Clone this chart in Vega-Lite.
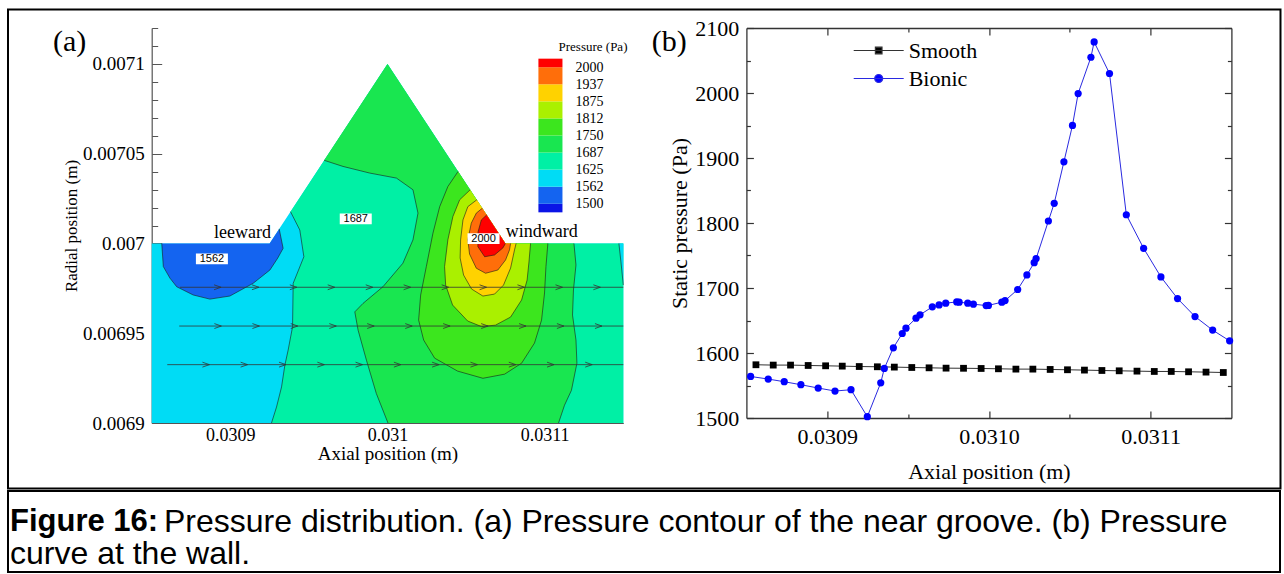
{
  "$schema": "https://vega.github.io/schema/vega-lite/v6.json",
  "background": "white",
  "padding": {"left": 7, "top": 8, "right": 1, "bottom": 1},
  "config": {
    "view": {"stroke": null},
    "font": "Liberation Serif",
    "axis": {"grid": false, "labelFont": "Liberation Serif", "titleFont": "Liberation Serif", "titleFontWeight": "normal", "labelColor": "#000", "titleColor": "#000", "labelOverlap": false, "labelFlush": false},
    "title": {"font": "Liberation Serif", "fontWeight": "normal", "color": "#000"}
  },
  "datasets": {
    "contours": [
      {"poly": "base", "i": 0, "p": 1562.5, "x": 0.03085, "y": 0.007, "seg": null},
      {"poly": "base", "i": 1, "p": 1562.5, "x": 0.030925, "y": 0.007, "seg": null},
      {"poly": "base", "i": 2, "p": 1562.5, "x": 0.031, "y": 0.0071, "seg": null},
      {"poly": "base", "i": 3, "p": 1562.5, "x": 0.031075, "y": 0.007, "seg": null},
      {"poly": "base", "i": 4, "p": 1562.5, "x": 0.03115, "y": 0.007, "seg": null},
      {"poly": "base", "i": 5, "p": 1562.5, "x": 0.03115, "y": 0.0069, "seg": null},
      {"poly": "base", "i": 6, "p": 1562.5, "x": 0.03085, "y": 0.0069, "seg": null},

      {"poly": "t", "i": 0, "p": 1625, "x": 0.0309383, "y": 0.0070177, "seg": "s1625"},
      {"poly": "t", "i": 1, "p": 1625, "x": 0.0309442, "y": 0.0070075, "seg": "s1625"},
      {"poly": "t", "i": 2, "p": 1625, "x": 0.0309468, "y": 0.0069926, "seg": "s1625"},
      {"poly": "t", "i": 3, "p": 1625, "x": 0.03094, "y": 0.0069778, "seg": "s1625"},
      {"poly": "t", "i": 4, "p": 1625, "x": 0.0309396, "y": 0.0069536, "seg": "s1625"},
      {"poly": "t", "i": 5, "p": 1625, "x": 0.0309368, "y": 0.0069406, "seg": "s1625"},
      {"poly": "t", "i": 6, "p": 1625, "x": 0.0309347, "y": 0.0069322, "seg": "s1625"},
      {"poly": "t", "i": 7, "p": 1625, "x": 0.0309326, "y": 0.0069201, "seg": "s1625"},
      {"poly": "t", "i": 8, "p": 1625, "x": 0.0309294, "y": 0.0069089, "seg": "s1625"},
      {"poly": "t", "i": 9, "p": 1625, "x": 0.0309262, "y": 0.0069, "seg": "s1625"},
      {"poly": "t", "i": 10, "p": 1625, "x": 0.03115, "y": 0.0069, "seg": null},
      {"poly": "t", "i": 11, "p": 1625, "x": 0.03115, "y": 0.007, "seg": null},
      {"poly": "t", "i": 12, "p": 1625, "x": 0.031075, "y": 0.007, "seg": null},
      {"poly": "t", "i": 13, "p": 1625, "x": 0.031, "y": 0.0071, "seg": null},

      {"poly": "cs", "i": 0, "p": 1562.5, "x": 0.0311472, "y": 0.007, "seg": "s1625b"},
      {"poly": "cs", "i": 1, "p": 1562.5, "x": 0.0311485, "y": 0.0069897, "seg": "s1625b"},
      {"poly": "cs", "i": 2, "p": 1562.5, "x": 0.03115, "y": 0.0069768, "seg": "s1625b"},
      {"poly": "cs", "i": 3, "p": 1562.5, "x": 0.03115, "y": 0.007, "seg": null},

      {"poly": "b", "i": 0, "p": 1500, "x": 0.0308564, "y": 0.007, "seg": "s1562"},
      {"poly": "b", "i": 1, "p": 1500, "x": 0.0308574, "y": 0.0069871, "seg": "s1562"},
      {"poly": "b", "i": 2, "p": 1500, "x": 0.0308616, "y": 0.0069807, "seg": "s1562"},
      {"poly": "b", "i": 3, "p": 1500, "x": 0.0308659, "y": 0.0069759, "seg": "s1562"},
      {"poly": "b", "i": 4, "p": 1500, "x": 0.0308764, "y": 0.0069713, "seg": "s1562"},
      {"poly": "b", "i": 5, "p": 1500, "x": 0.030887, "y": 0.006969, "seg": "s1562"},
      {"poly": "b", "i": 6, "p": 1500, "x": 0.0308997, "y": 0.0069707, "seg": "s1562"},
      {"poly": "b", "i": 7, "p": 1500, "x": 0.0309145, "y": 0.0069778, "seg": "s1562"},
      {"poly": "b", "i": 8, "p": 1500, "x": 0.0309252, "y": 0.0069852, "seg": "s1562"},
      {"poly": "b", "i": 9, "p": 1500, "x": 0.0309302, "y": 0.0069919, "seg": "s1562"},
      {"poly": "b", "i": 10, "p": 1500, "x": 0.0309336, "y": 0.0069973, "seg": "s1562"},
      {"poly": "b", "i": 11, "p": 1500, "x": 0.0309311, "y": 0.0070081, "seg": "s1562"},
      {"poly": "b", "i": 12, "p": 1500, "x": 0.030925, "y": 0.007, "seg": null},

      {"poly": "g1", "i": 0, "p": 1687.5, "x": 0.0311088, "y": 0.0069, "seg": "s1687R"},
      {"poly": "g1", "i": 1, "p": 1687.5, "x": 0.0311126, "y": 0.0069099, "seg": "s1687R"},
      {"poly": "g1", "i": 2, "p": 1687.5, "x": 0.031117, "y": 0.0069182, "seg": "s1687R"},
      {"poly": "g1", "i": 3, "p": 1687.5, "x": 0.0311205, "y": 0.0069333, "seg": "s1687R"},
      {"poly": "g1", "i": 4, "p": 1687.5, "x": 0.0311199, "y": 0.0069462, "seg": "s1687R"},
      {"poly": "g1", "i": 5, "p": 1687.5, "x": 0.0311177, "y": 0.0069601, "seg": "s1687R"},
      {"poly": "g1", "i": 6, "p": 1687.5, "x": 0.0311183, "y": 0.0069741, "seg": "s1687R"},
      {"poly": "g1", "i": 7, "p": 1687.5, "x": 0.0311199, "y": 0.006988, "seg": "s1687R"},
      {"poly": "g1", "i": 8, "p": 1687.5, "x": 0.0311186, "y": 0.007, "seg": "s1687R"},
      {"poly": "g1", "i": 9, "p": 1687.5, "x": 0.031075, "y": 0.007, "seg": null},
      {"poly": "g1", "i": 10, "p": 1687.5, "x": 0.031, "y": 0.0071, "seg": null},
      {"poly": "g1", "i": 11, "p": 1687.5, "x": 0.0309597, "y": 0.0070463, "seg": "s1687L"},
      {"poly": "g1", "i": 12, "p": 1687.5, "x": 0.0309717, "y": 0.0070429, "seg": "s1687L"},
      {"poly": "g1", "i": 13, "p": 1687.5, "x": 0.0309887, "y": 0.0070392, "seg": "s1687L"},
      {"poly": "g1", "i": 14, "p": 1687.5, "x": 0.0310057, "y": 0.0070364, "seg": "s1687L"},
      {"poly": "g1", "i": 15, "p": 1687.5, "x": 0.0310162, "y": 0.0070299, "seg": "s1687L"},
      {"poly": "g1", "i": 16, "p": 1687.5, "x": 0.0310194, "y": 0.0070169, "seg": "s1687L"},
      {"poly": "g1", "i": 17, "p": 1687.5, "x": 0.0310162, "y": 0.007002, "seg": "s1687L"},
      {"poly": "g1", "i": 18, "p": 1687.5, "x": 0.0310098, "y": 0.006989, "seg": "s1687L"},
      {"poly": "g1", "i": 19, "p": 1687.5, "x": 0.0309971, "y": 0.0069759, "seg": "s1687L"},
      {"poly": "g1", "i": 20, "p": 1687.5, "x": 0.0309844, "y": 0.0069666, "seg": "s1687L"},
      {"poly": "g1", "i": 21, "p": 1687.5, "x": 0.0309792, "y": 0.0069619, "seg": "s1687L"},
      {"poly": "g1", "i": 22, "p": 1687.5, "x": 0.0309813, "y": 0.0069517, "seg": "s1687L"},
      {"poly": "g1", "i": 23, "p": 1687.5, "x": 0.0309866, "y": 0.006935, "seg": "s1687L"},
      {"poly": "g1", "i": 24, "p": 1687.5, "x": 0.0309929, "y": 0.0069164, "seg": "s1687L"},
      {"poly": "g1", "i": 25, "p": 1687.5, "x": 0.0310003, "y": 0.0069, "seg": "s1687L"},

      {"poly": "g2", "i": 0, "p": 1750, "x": 0.0310449, "y": 0.0070401, "seg": "s1750"},
      {"poly": "g2", "i": 1, "p": 1750, "x": 0.0310384, "y": 0.0070317, "seg": "s1750"},
      {"poly": "g2", "i": 2, "p": 1750, "x": 0.0310332, "y": 0.0070205, "seg": "s1750"},
      {"poly": "g2", "i": 3, "p": 1750, "x": 0.0310289, "y": 0.0070057, "seg": "s1750"},
      {"poly": "g2", "i": 4, "p": 1750, "x": 0.0310247, "y": 0.0069871, "seg": "s1750"},
      {"poly": "g2", "i": 5, "p": 1750, "x": 0.0310211, "y": 0.0069713, "seg": "s1750"},
      {"poly": "g2", "i": 6, "p": 1750, "x": 0.0310198, "y": 0.0069573, "seg": "s1750"},
      {"poly": "g2", "i": 7, "p": 1750, "x": 0.031023, "y": 0.0069462, "seg": "s1750"},
      {"poly": "g2", "i": 8, "p": 1750, "x": 0.03103, "y": 0.0069361, "seg": "s1750"},
      {"poly": "g2", "i": 9, "p": 1750, "x": 0.0310446, "y": 0.0069289, "seg": "s1750"},
      {"poly": "g2", "i": 10, "p": 1750, "x": 0.0310607, "y": 0.0069249, "seg": "s1750"},
      {"poly": "g2", "i": 11, "p": 1750, "x": 0.0310745, "y": 0.0069272, "seg": "s1750"},
      {"poly": "g2", "i": 12, "p": 1750, "x": 0.0310853, "y": 0.0069333, "seg": "s1750"},
      {"poly": "g2", "i": 13, "p": 1750, "x": 0.0310935, "y": 0.0069445, "seg": "s1750"},
      {"poly": "g2", "i": 14, "p": 1750, "x": 0.031098, "y": 0.0069573, "seg": "s1750"},
      {"poly": "g2", "i": 15, "p": 1750, "x": 0.0310999, "y": 0.0069724, "seg": "s1750"},
      {"poly": "g2", "i": 16, "p": 1750, "x": 0.0311008, "y": 0.0069871, "seg": "s1750"},
      {"poly": "g2", "i": 17, "p": 1750, "x": 0.031102, "y": 0.007, "seg": "s1750"},
      {"poly": "g2", "i": 18, "p": 1750, "x": 0.031075, "y": 0.007, "seg": null},

      {"poly": "yg", "i": 0, "p": 1812.5, "x": 0.0310526, "y": 0.0070299, "seg": "s1812"},
      {"poly": "yg", "i": 1, "p": 1812.5, "x": 0.0310459, "y": 0.0070243, "seg": "s1812"},
      {"poly": "yg", "i": 2, "p": 1812.5, "x": 0.0310416, "y": 0.007015, "seg": "s1812"},
      {"poly": "yg", "i": 3, "p": 1812.5, "x": 0.0310384, "y": 0.007002, "seg": "s1812"},
      {"poly": "yg", "i": 4, "p": 1812.5, "x": 0.0310363, "y": 0.0069871, "seg": "s1812"},
      {"poly": "yg", "i": 5, "p": 1812.5, "x": 0.031037, "y": 0.0069768, "seg": "s1812"},
      {"poly": "yg", "i": 6, "p": 1812.5, "x": 0.0310414, "y": 0.0069657, "seg": "s1812"},
      {"poly": "yg", "i": 7, "p": 1812.5, "x": 0.031051, "y": 0.0069568, "seg": "s1812"},
      {"poly": "yg", "i": 8, "p": 1812.5, "x": 0.0310598, "y": 0.0069537, "seg": "s1812"},
      {"poly": "yg", "i": 9, "p": 1812.5, "x": 0.0310687, "y": 0.0069545, "seg": "s1812"},
      {"poly": "yg", "i": 10, "p": 1812.5, "x": 0.0310783, "y": 0.006959, "seg": "s1812"},
      {"poly": "yg", "i": 11, "p": 1812.5, "x": 0.0310853, "y": 0.0069685, "seg": "s1812"},
      {"poly": "yg", "i": 12, "p": 1812.5, "x": 0.0310888, "y": 0.0069796, "seg": "s1812"},
      {"poly": "yg", "i": 13, "p": 1812.5, "x": 0.03109, "y": 0.0069897, "seg": "s1812"},
      {"poly": "yg", "i": 14, "p": 1812.5, "x": 0.031091, "y": 0.007, "seg": "s1812"},
      {"poly": "yg", "i": 15, "p": 1812.5, "x": 0.031075, "y": 0.007, "seg": null},

      {"poly": "y", "i": 0, "p": 1875, "x": 0.0310568, "y": 0.0070243, "seg": "s1875"},
      {"poly": "y", "i": 1, "p": 1875, "x": 0.0310511, "y": 0.0070205, "seg": "s1875"},
      {"poly": "y", "i": 2, "p": 1875, "x": 0.031048, "y": 0.0070131, "seg": "s1875"},
      {"poly": "y", "i": 3, "p": 1875, "x": 0.0310465, "y": 0.007002, "seg": "s1875"},
      {"poly": "y", "i": 4, "p": 1875, "x": 0.0310462, "y": 0.0069919, "seg": "s1875"},
      {"poly": "y", "i": 5, "p": 1875, "x": 0.0310484, "y": 0.0069824, "seg": "s1875"},
      {"poly": "y", "i": 6, "p": 1875, "x": 0.0310535, "y": 0.0069746, "seg": "s1875"},
      {"poly": "y", "i": 7, "p": 1875, "x": 0.0310607, "y": 0.0069707, "seg": "s1875"},
      {"poly": "y", "i": 8, "p": 1875, "x": 0.0310681, "y": 0.0069718, "seg": "s1875"},
      {"poly": "y", "i": 9, "p": 1875, "x": 0.0310738, "y": 0.0069768, "seg": "s1875"},
      {"poly": "y", "i": 10, "p": 1875, "x": 0.0310783, "y": 0.0069863, "seg": "s1875"},
      {"poly": "y", "i": 11, "p": 1875, "x": 0.0310808, "y": 0.0069964, "seg": "s1875"},
      {"poly": "y", "i": 12, "p": 1875, "x": 0.0310818, "y": 0.007, "seg": "s1875"},
      {"poly": "y", "i": 13, "p": 1875, "x": 0.031075, "y": 0.007, "seg": null},

      {"poly": "o", "i": 0, "p": 1937.5, "x": 0.0310603, "y": 0.0070196, "seg": "s1937"},
      {"poly": "o", "i": 1, "p": 1937.5, "x": 0.0310565, "y": 0.0070169, "seg": "s1937"},
      {"poly": "o", "i": 2, "p": 1937.5, "x": 0.0310533, "y": 0.0070113, "seg": "s1937"},
      {"poly": "o", "i": 3, "p": 1937.5, "x": 0.0310511, "y": 0.007002, "seg": "s1937"},
      {"poly": "o", "i": 4, "p": 1937.5, "x": 0.0310522, "y": 0.0069941, "seg": "s1937"},
      {"poly": "o", "i": 5, "p": 1937.5, "x": 0.0310565, "y": 0.0069862, "seg": "s1937"},
      {"poly": "o", "i": 6, "p": 1937.5, "x": 0.0310624, "y": 0.0069834, "seg": "s1937"},
      {"poly": "o", "i": 7, "p": 1937.5, "x": 0.0310702, "y": 0.0069852, "seg": "s1937"},
      {"poly": "o", "i": 8, "p": 1937.5, "x": 0.0310751, "y": 0.0069908, "seg": "s1937"},
      {"poly": "o", "i": 9, "p": 1937.5, "x": 0.0310776, "y": 0.0069964, "seg": "s1937"},
      {"poly": "o", "i": 10, "p": 1937.5, "x": 0.0310783, "y": 0.007, "seg": "s1937"},
      {"poly": "o", "i": 11, "p": 1937.5, "x": 0.031075, "y": 0.007, "seg": null},

      {"poly": "r", "i": 0, "p": 2000, "x": 0.0310631, "y": 0.0070159, "seg": "s2000"},
      {"poly": "r", "i": 1, "p": 2000, "x": 0.0310597, "y": 0.0070131, "seg": "s2000"},
      {"poly": "r", "i": 2, "p": 2000, "x": 0.0310576, "y": 0.0070064, "seg": "s2000"},
      {"poly": "r", "i": 3, "p": 2000, "x": 0.0310575, "y": 0.0069982, "seg": "s2000"},
      {"poly": "r", "i": 4, "p": 2000, "x": 0.0310618, "y": 0.0069926, "seg": "s2000"},
      {"poly": "r", "i": 5, "p": 2000, "x": 0.0310681, "y": 0.0069936, "seg": "s2000"},
      {"poly": "r", "i": 6, "p": 2000, "x": 0.0310734, "y": 0.0069975, "seg": "s2000"},
      {"poly": "r", "i": 7, "p": 2000, "x": 0.031075, "y": 0.007, "seg": "s2000"}
    ],
    "streams": [
      {"sl": "1", "x": 0.030868, "y": 0.0069756},
      {"sl": "1", "x": 0.03115, "y": 0.0069756},
      {"sl": "2", "x": 0.0308675, "y": 0.006954},
      {"sl": "2", "x": 0.03115, "y": 0.006954},
      {"sl": "3", "x": 0.0308599, "y": 0.0069325},
      {"sl": "3", "x": 0.03115, "y": 0.0069325}
    ],
    "arrows": [
      {"x": 0.0308919, "y": 0.0069756}, {"x": 0.030916, "y": 0.0069756}, {"x": 0.0309401, "y": 0.0069756}, {"x": 0.0309642, "y": 0.0069756}, {"x": 0.0309884, "y": 0.0069756}, {"x": 0.0310125, "y": 0.0069756}, {"x": 0.0310367, "y": 0.0069756}, {"x": 0.0310608, "y": 0.0069756}, {"x": 0.0310849, "y": 0.0069756}, {"x": 0.0311091, "y": 0.0069756}, {"x": 0.0311332, "y": 0.0069756},
      {"x": 0.0308921, "y": 0.006954}, {"x": 0.0309163, "y": 0.006954}, {"x": 0.0309407, "y": 0.006954}, {"x": 0.0309652, "y": 0.006954}, {"x": 0.0309893, "y": 0.006954}, {"x": 0.0310135, "y": 0.006954}, {"x": 0.0310376, "y": 0.006954}, {"x": 0.0310618, "y": 0.006954}, {"x": 0.0310859, "y": 0.006954}, {"x": 0.03111, "y": 0.006954}, {"x": 0.0311342, "y": 0.006954},
      {"x": 0.0308845, "y": 0.0069325}, {"x": 0.0309088, "y": 0.0069325}, {"x": 0.0309332, "y": 0.0069325}, {"x": 0.0309576, "y": 0.0069325}, {"x": 0.0309819, "y": 0.0069325}, {"x": 0.0310063, "y": 0.0069325}, {"x": 0.0310306, "y": 0.0069325}, {"x": 0.031055, "y": 0.0069325}, {"x": 0.0310794, "y": 0.0069325}, {"x": 0.0311037, "y": 0.0069325}, {"x": 0.031128, "y": 0.0069325}
    ],
    "clabels": [
      {"x": 0.0308883, "y": 0.0069914, "label": "1562"},
      {"x": 0.0309798, "y": 0.0070137, "label": "1687"},
      {"x": 0.0310611, "y": 0.0070027, "label": "2000"}
    ],
    "notes": [
      {"x": 0.0309077, "y": 0.0070029, "label": "leeward"},
      {"x": 0.0310981, "y": 0.0070035, "label": "windward"}
    ],
    "cbar": [
      {"lo": 1468.75, "hi": 1500}, {"lo": 1500, "hi": 1562.5}, {"lo": 1562.5, "hi": 1625}, {"lo": 1625, "hi": 1687.5}, {"lo": 1687.5, "hi": 1750},
      {"lo": 1750, "hi": 1812.5}, {"lo": 1812.5, "hi": 1875}, {"lo": 1875, "hi": 1937.5}, {"lo": 1937.5, "hi": 2000}, {"lo": 2000, "hi": 2031.25}
    ],
    "wall": [
      {"series": "Smooth", "x": 0.0308559, "p": 1581.9}, {"series": "Smooth", "x": 0.0308666, "p": 1581.4}, {"series": "Smooth", "x": 0.0308773, "p": 1581.4}, {"series": "Smooth", "x": 0.0308882, "p": 1580.8},
      {"series": "Smooth", "x": 0.030899, "p": 1580.3}, {"series": "Smooth", "x": 0.0309093, "p": 1579.8}, {"series": "Smooth", "x": 0.0309198, "p": 1579.2}, {"series": "Smooth", "x": 0.030931, "p": 1578.8},
      {"series": "Smooth", "x": 0.0309415, "p": 1578.3}, {"series": "Smooth", "x": 0.0309523, "p": 1577.7}, {"series": "Smooth", "x": 0.030963, "p": 1577.2}, {"series": "Smooth", "x": 0.0309735, "p": 1576.7},
      {"series": "Smooth", "x": 0.0309843, "p": 1576.5}, {"series": "Smooth", "x": 0.0309952, "p": 1576.2}, {"series": "Smooth", "x": 0.0310059, "p": 1575.7}, {"series": "Smooth", "x": 0.0310167, "p": 1575.2},
      {"series": "Smooth", "x": 0.0310272, "p": 1575.2}, {"series": "Smooth", "x": 0.0310379, "p": 1574.7}, {"series": "Smooth", "x": 0.0310486, "p": 1574.2}, {"series": "Smooth", "x": 0.0310591, "p": 1573.7},
      {"series": "Smooth", "x": 0.0310699, "p": 1573.1}, {"series": "Smooth", "x": 0.0310806, "p": 1572.6}, {"series": "Smooth", "x": 0.0310916, "p": 1572.1}, {"series": "Smooth", "x": 0.0311023, "p": 1571.6},
      {"series": "Smooth", "x": 0.0311128, "p": 1571.6}, {"series": "Smooth", "x": 0.0311235, "p": 1571.1}, {"series": "Smooth", "x": 0.0311343, "p": 1570.6}, {"series": "Smooth", "x": 0.031145, "p": 1570.0},
      {"series": "Bionic", "x": 0.0308526, "p": 1563.9}, {"series": "Bionic", "x": 0.0308635, "p": 1559.9}, {"series": "Bionic", "x": 0.0308734, "p": 1555.8}, {"series": "Bionic", "x": 0.0308837, "p": 1551.2},
      {"series": "Bionic", "x": 0.0308944, "p": 1546.1}, {"series": "Bionic", "x": 0.0309048, "p": 1541.5}, {"series": "Bionic", "x": 0.0309147, "p": 1543.5}, {"series": "Bionic", "x": 0.0309248, "p": 1502},
      {"series": "Bionic", "x": 0.0309331, "p": 1554.2}, {"series": "Bionic", "x": 0.0309353, "p": 1576.2}, {"series": "Bionic", "x": 0.0309409, "p": 1608}, {"series": "Bionic", "x": 0.0309464, "p": 1630},
      {"series": "Bionic", "x": 0.0309487, "p": 1638.2}, {"series": "Bionic", "x": 0.0309549, "p": 1653.6}, {"series": "Bionic", "x": 0.0309574, "p": 1658.7}, {"series": "Bionic", "x": 0.030965, "p": 1671},
      {"series": "Bionic", "x": 0.0309692, "p": 1674}, {"series": "Bionic", "x": 0.0309733, "p": 1676.7}, {"series": "Bionic", "x": 0.0309801, "p": 1678.6}, {"series": "Bionic", "x": 0.0309816, "p": 1678.2},
      {"series": "Bionic", "x": 0.0309869, "p": 1676.7}, {"series": "Bionic", "x": 0.0309904, "p": 1675.1}, {"series": "Bionic", "x": 0.0309983, "p": 1673}, {"series": "Bionic", "x": 0.0309997, "p": 1673.2},
      {"series": "Bionic", "x": 0.031008, "p": 1678.2}, {"series": "Bionic", "x": 0.03101, "p": 1680.6}, {"series": "Bionic", "x": 0.0310178, "p": 1697.7}, {"series": "Bionic", "x": 0.0310235, "p": 1720.1},
      {"series": "Bionic", "x": 0.031028, "p": 1739}, {"series": "Bionic", "x": 0.0310292, "p": 1745.2}, {"series": "Bionic", "x": 0.0310368, "p": 1803.1}, {"series": "Bionic", "x": 0.0310404, "p": 1830.3},
      {"series": "Bionic", "x": 0.0310464, "p": 1894.2}, {"series": "Bionic", "x": 0.0310517, "p": 1950.1}, {"series": "Bionic", "x": 0.0310552, "p": 1999.2}, {"series": "Bionic", "x": 0.0310631, "p": 2055},
      {"series": "Bionic", "x": 0.0310651, "p": 2078.5}, {"series": "Bionic", "x": 0.0310746, "p": 2030}, {"series": "Bionic", "x": 0.031085, "p": 1812.7}, {"series": "Bionic", "x": 0.0310957, "p": 1761.1},
      {"series": "Bionic", "x": 0.0311064, "p": 1717}, {"series": "Bionic", "x": 0.0311167, "p": 1683.7}, {"series": "Bionic", "x": 0.0311275, "p": 1656.1}, {"series": "Bionic", "x": 0.0311384, "p": 1635.2},
      {"series": "Bionic", "x": 0.0311489, "p": 1618.7}
    ]
  },
  "vconcat": [
    {
      "hconcat": [
        {
          "width": 21,
          "height": 10,
          "data": {"values": []},
          "mark": {"type": "point"}
        },
        {
          "width": 471.6,
          "height": 395,
          "title": {"text": "(a)", "anchor": "start", "frame": "bounds", "fontSize": 30, "offset": -72, "dx": 46, "baseline": "alphabetic"},
          "layer": [
            {
              "resolve": {"axis": {"x": "independent", "y": "independent"}},
              "layer": [
                {
                  "data": {"values": [{"frame": "figure"}]},
                  "mark": {"type": "rect", "filled": false, "color": "#000", "strokeWidth": 2},
                  "encoding": {
                    "x": {"datum": 0.03075859, "type": "quantitative", "axis": null},
                    "x2": {"datum": 0.03156806},
                    "y": {"datum": 0.0071303, "type": "quantitative", "axis": null},
                    "y2": {"datum": 0.00686352}
                  }
                },
                {
                  "data": {"name": "contours"},
                  "encoding": {
                    "x": {"field": "x", "type": "quantitative", "scale": {"domain": [0.03085, 0.03115], "nice": false, "zero": false},
                      "axis": {"orient": "bottom", "values": [0.0309, 0.031, 0.0311], "format": ".4~f", "tickSize": -10,
                        "labelPadding": 13.8, "labelFontSize": 18, "labelAngle": 0,
                        "title": "Axial position (m)", "titleFontSize": 19, "titlePadding": 0,
                        "domainColor": "#555", "tickColor": "#555", "domainWidth": 1.2, "tickWidth": 1}},
                    "y": {"field": "y", "type": "quantitative", "scale": {"domain": [0.0069, 0.00712], "nice": false, "zero": false},
                      "axis": {"orient": "left", "values": [0.0069, 0.00695, 0.007, 0.00705, 0.0071], "format": ".5~f", "tickSize": -10,
                        "labelPadding": 17.4, "labelFontSize": 19,
                        "title": "Radial position (m)", "titleFontSize": 17, "titlePadding": 2,
                        "domainColor": "#555", "tickColor": "#555", "domainWidth": 1.2, "tickWidth": 1}},
                    "order": {"field": "i", "type": "quantitative"},
                    "detail": {"field": "poly", "type": "nominal"},
                    "fill": {"field": "p", "type": "quantitative", "legend": null,
                      "scale": {"type": "threshold", "domain": [1500, 1562.5, 1625, 1687.5, 1750, 1812.5, 1875, 1937.5, 2000],
                        "range": ["#0A14E6", "#1464F0", "#00DCF5", "#00F0A5", "#19E650", "#3CE61E", "#AAF000", "#FFD200", "#FF6E0A", "#FF0000"]}}
                  },
                  "layer": [
                    {"transform": [{"filter": "datum.poly === 'base'"}], "mark": {"type": "line", "interpolate": "linear-closed", "strokeWidth": 0, "strokeOpacity": 0}},
                    {"transform": [{"filter": "datum.poly === 't'"}], "mark": {"type": "line", "interpolate": "linear-closed", "strokeWidth": 0, "strokeOpacity": 0}},
                    {"transform": [{"filter": "datum.poly === 'g1' || datum.poly === 'cs' || datum.poly === 'b'"}], "mark": {"type": "line", "interpolate": "linear-closed", "strokeWidth": 0, "strokeOpacity": 0}},
                    {"transform": [{"filter": "datum.poly === 'g2'"}], "mark": {"type": "line", "interpolate": "linear-closed", "strokeWidth": 0, "strokeOpacity": 0}},
                    {"transform": [{"filter": "datum.poly === 'yg'"}], "mark": {"type": "line", "interpolate": "linear-closed", "strokeWidth": 0, "strokeOpacity": 0}},
                    {"transform": [{"filter": "datum.poly === 'y'"}], "mark": {"type": "line", "interpolate": "linear-closed", "strokeWidth": 0, "strokeOpacity": 0}},
                    {"transform": [{"filter": "datum.poly === 'o'"}], "mark": {"type": "line", "interpolate": "linear-closed", "strokeWidth": 0, "strokeOpacity": 0}},
                    {"transform": [{"filter": "datum.poly === 'r'"}], "mark": {"type": "line", "interpolate": "linear-closed", "strokeWidth": 0, "strokeOpacity": 0}}
                  ]
                },
                {
                  "data": {"name": "contours"},
                  "transform": [{"filter": "datum.seg != null"}],
                  "mark": {"type": "line", "stroke": "#1a1a1a", "strokeWidth": 0.7, "opacity": 0.85},
                  "encoding": {
                    "x": {"field": "x", "type": "quantitative",
                      "axis": {"orient": "bottom", "values": [0.03086, 0.03088, 0.03092, 0.03094, 0.03096, 0.03098, 0.03102, 0.03104, 0.03106, 0.03108, 0.03112, 0.03114],
                        "labels": false, "domain": false, "title": null, "tickSize": -6, "tickColor": "#555", "tickWidth": 1}},
                    "y": {"field": "y", "type": "quantitative",
                      "axis": {"orient": "left", "values": [0.00691, 0.00692, 0.00693, 0.00694, 0.00696, 0.00697, 0.00698, 0.00699, 0.00701, 0.00702, 0.00703, 0.00704, 0.00706, 0.00707, 0.00708, 0.00709, 0.00711, 0.00712],
                        "labels": false, "domain": false, "title": null, "tickSize": -6, "tickColor": "#555", "tickWidth": 1}},
                    "order": {"field": "i", "type": "quantitative"},
                    "detail": {"field": "seg", "type": "nominal"}
                  }
                },
                {
                  "data": {"name": "streams"},
                  "mark": {"type": "line", "stroke": "#333", "strokeWidth": 0.8},
                  "encoding": {
                    "x": {"field": "x", "type": "quantitative", "axis": null},
                    "y": {"field": "y", "type": "quantitative", "axis": null},
                    "detail": {"field": "sl", "type": "nominal"}
                  }
                },
                {
                  "data": {"name": "arrows"},
                  "mark": {"type": "point", "shape": "M-1,-0.7L1,0L-1,0.7", "size": 49, "filled": false, "color": "#333", "strokeWidth": 0.8, "opacity": 1},
                  "encoding": {
                    "x": {"field": "x", "type": "quantitative", "axis": null},
                    "y": {"field": "y", "type": "quantitative", "axis": null}
                  }
                },
                {
                  "data": {"name": "clabels"},
                  "mark": {"type": "point", "shape": "M-1,-0.34L1,-0.34L1,0.34L-1,0.34Z", "size": 1024, "filled": true, "color": "#ffffff", "strokeWidth": 0, "opacity": 1},
                  "encoding": {
                    "x": {"field": "x", "type": "quantitative", "axis": null},
                    "y": {"field": "y", "type": "quantitative", "axis": null}
                  }
                },
                {
                  "data": {"name": "clabels"},
                  "mark": {"type": "text", "font": "Liberation Sans", "fontSize": 11, "align": "center", "baseline": "middle", "color": "#000"},
                  "encoding": {
                    "x": {"field": "x", "type": "quantitative", "axis": null},
                    "y": {"field": "y", "type": "quantitative", "axis": null},
                    "text": {"field": "label"}
                  }
                },
                {
                  "data": {"name": "notes"},
                  "mark": {"type": "text", "font": "Liberation Serif", "fontSize": 18, "align": "center", "baseline": "alphabetic", "color": "#000"},
                  "encoding": {
                    "x": {"field": "x", "type": "quantitative", "axis": null},
                    "y": {"field": "y", "type": "quantitative", "axis": null},
                    "text": {"field": "label"}
                  }
                }
              ]
            },
            {
              "data": {"name": "cbar"},
              "mark": {"type": "rect", "strokeWidth": 0},
              "encoding": {
                "x": {"datum": 0.031096, "type": "quantitative", "axis": null},
                "x2": {"datum": 0.0311113},
                "y": {"field": "lo", "type": "quantitative", "scale": {"domain": [1500, 2000], "range": [175.8, 39.2], "nice": false, "zero": false},
                  "axis": {"orient": "right", "offset": -60.3, "values": [1500, 1562.5, 1625, 1687.5, 1750, 1812.5, 1875, 1937.5, 2000],
                    "labelExpr": "'' + floor(datum.value)", "ticks": false, "domain": false, "labelPadding": 12, "labelFontSize": 14, "labelBaseline": "middle",
                    "title": "Pressure (Pa)", "titleAngle": 0, "titleX": 29.5, "titleY": 18.5, "titleAlign": "center", "titleBaseline": "middle", "titleFontSize": 13}},
                "y2": {"field": "hi"},
                "fill": {"field": "lo", "type": "quantitative", "legend": null,
                  "scale": {"type": "threshold", "domain": [1500, 1562.5, 1625, 1687.5, 1750, 1812.5, 1875, 1937.5, 2000],
                    "range": ["#0A14E6", "#1464F0", "#00DCF5", "#00F0A5", "#19E650", "#3CE61E", "#AAF000", "#FFD200", "#FF6E0A", "#FF0000"]}}
              }
            }
          ],
          "resolve": {"scale": {"y": "independent"}}
        },
        {
          "width": 485,
          "height": 390,
          "data": {"name": "wall"},
          "title": {"text": "(b)", "anchor": "start", "frame": "bounds", "fontSize": 30, "offset": -63.5, "dx": -17, "baseline": "alphabetic"},
          "resolve": {"axis": {"x": "independent", "y": "independent"}},
          "layer": [
            {
              "transform": [{"filter": "datum.series === 'Smooth'"}],
              "mark": {"type": "line", "color": "#333", "strokeWidth": 1},
              "encoding": {
                "x": {"field": "x", "type": "quantitative", "scale": {"domain": [0.03085, 0.03115], "nice": false, "zero": false},
                  "axis": {"orient": "bottom", "values": [0.0309, 0.031, 0.0311], "format": ".4f", "tickSize": -7,
                    "labelPadding": 15, "labelFontSize": 22, "labelAngle": 0,
                    "title": "Axial position (m)", "titleFontSize": 22, "titlePadding": 14.7,
                    "domainColor": "#333", "tickColor": "#333", "domainWidth": 1.3, "tickWidth": 1.2}},
                "y": {"field": "p", "type": "quantitative", "scale": {"domain": [1500, 2100], "nice": false, "zero": false},
                  "axis": {"orient": "left", "values": [1500, 1600, 1700, 1800, 1900, 2000, 2100], "format": "d", "tickSize": -7,
                    "labelPadding": 14.7, "labelFontSize": 22,
                    "title": "Static pressure (Pa)", "titleFontSize": 22, "titlePadding": 3,
                    "domainColor": "#333", "tickColor": "#333", "domainWidth": 1.3, "tickWidth": 1.2}}
              }
            },
            {
              "transform": [{"filter": "datum.series === 'Smooth'"}],
              "mark": {"type": "point", "shape": "square", "filled": true, "color": "#000", "size": 46, "opacity": 1},
              "encoding": {
                "x": {"field": "x", "type": "quantitative",
                  "axis": {"orient": "top", "values": [0.0309, 0.031, 0.0311], "labels": false, "title": null, "tickSize": -7,
                    "domainColor": "#333", "tickColor": "#333", "domainWidth": 1.3, "tickWidth": 1.2}},
                "y": {"field": "p", "type": "quantitative",
                  "axis": {"orient": "right", "values": [1500, 1600, 1700, 1800, 1900, 2000, 2100], "labels": false, "title": null, "tickSize": -7,
                    "domainColor": "#333", "tickColor": "#333", "domainWidth": 1.3, "tickWidth": 1.2}}
              }
            },
            {
              "transform": [{"filter": "datum.series === 'Bionic'"}],
              "mark": {"type": "line", "color": "#2A2AE0", "strokeWidth": 1},
              "encoding": {
                "x": {"field": "x", "type": "quantitative",
                  "axis": {"orient": "bottom", "values": [0.03095, 0.03105], "labels": false, "domain": false, "title": null, "tickSize": -4, "tickColor": "#333", "tickWidth": 1.2}},
                "y": {"field": "p", "type": "quantitative",
                  "axis": {"orient": "left", "values": [1550, 1650, 1750, 1850, 1950, 2050], "labels": false, "domain": false, "title": null, "tickSize": -4, "tickColor": "#333", "tickWidth": 1.2}}
              }
            },
            {
              "transform": [{"filter": "datum.series === 'Bionic'"}],
              "mark": {"type": "point", "shape": "circle", "filled": true, "color": "#0000FF", "size": 52, "opacity": 1},
              "encoding": {
                "x": {"field": "x", "type": "quantitative",
                  "axis": {"orient": "top", "values": [0.03095, 0.03105], "labels": false, "domain": false, "title": null, "tickSize": -4, "tickColor": "#333", "tickWidth": 1.2}},
                "y": {"field": "p", "type": "quantitative",
                  "axis": {"orient": "right", "values": [1550, 1650, 1750, 1850, 1950, 2050], "labels": false, "domain": false, "title": null, "tickSize": -4, "tickColor": "#333", "tickWidth": 1.2}}
              }
            },
            {
              "transform": [{"filter": "false"}],
              "mark": {"type": "point", "filled": true, "opacity": 1, "strokeWidth": 1.2},
              "encoding": {
                "shape": {"field": "series", "type": "nominal",
                  "scale": {"domain": ["Smooth", "Bionic"], "range": ["M-2.5,0L2.5,0M-0.33,-0.33L0.33,-0.33L0.33,0.33L-0.33,0.33Z", "M-2.5,0L2.5,0M-0.4,0A0.4,0.4,0,1,1,0.4,0A0.4,0.4,0,1,1,-0.4,0Z"]},
                  "legend": {"title": null, "orient": "none", "legendX": 121.3, "legendY": 11.5, "symbolSize": 400, "symbolStrokeWidth": 1.2, "labelFont": "Liberation Serif", "labelFontSize": 22, "labelOffset": 19, "rowPadding": 6, "padding": 0, "labelColor": "#000"}},
                "fill": {"field": "series", "type": "nominal",
                  "scale": {"domain": ["Smooth", "Bionic"], "range": ["#000000", "#0000FF"]},
                  "legend": {"title": null, "orient": "none", "legendX": 121.3, "legendY": 11.5, "symbolSize": 400, "symbolStrokeWidth": 1.2, "labelFont": "Liberation Serif", "labelFontSize": 22, "labelOffset": 19, "rowPadding": 6, "padding": 0, "labelColor": "#000"}},
                "stroke": {"field": "series", "type": "nominal",
                  "scale": {"domain": ["Smooth", "Bionic"], "range": ["#333333", "#2A2AE0"]},
                  "legend": {"title": null, "orient": "none", "legendX": 121.3, "legendY": 11.5, "symbolSize": 400, "symbolStrokeWidth": 1.2, "labelFont": "Liberation Serif", "labelFontSize": 22, "labelOffset": 19, "rowPadding": 6, "padding": 0, "labelColor": "#000"}}
              }
            }
          ]
        }
      ],
      "spacing": 122.7,
      "bounds": "flush",
      "resolve": {
        "scale": {"fill": "independent", "stroke": "independent", "shape": "independent"},
        "legend": {"fill": "independent", "stroke": "independent", "shape": "independent"}
      }
    },
    {
      "width": 1272,
      "height": 81,
      "view": {"stroke": "#000", "strokeWidth": 2},
      "data": {"values": [
        {"line": 1, "lead": "Figure 16:", "body": "Pressure distribution. (a) Pressure contour of the near groove. (b) Pressure"},
        {"line": 2, "lead": "", "body": "curve at the wall."}
      ]},
      "encoding": {
        "x": {"datum": 0, "type": "quantitative", "scale": {"domain": [0, 1]}, "axis": null},
        "y": {"field": "line", "type": "quantitative", "scale": {"domain": [0.03125, 2.5625], "reverse": true, "nice": false, "zero": false}, "axis": null}
      },
      "layer": [
        {"mark": {"type": "text", "align": "left", "baseline": "middle", "font": "Liberation Sans", "fontSize": 31, "fontWeight": "bold", "color": "#000", "dx": 2},
         "encoding": {"text": {"field": "lead"}}},
        {"transform": [{"filter": "datum.line == 1"}],
         "mark": {"type": "text", "align": "left", "baseline": "middle", "font": "Liberation Sans", "fontSize": 32, "color": "#000", "dx": 156},
         "encoding": {"text": {"field": "body"}}},
        {"transform": [{"filter": "datum.line == 2"}],
         "mark": {"type": "text", "align": "left", "baseline": "middle", "font": "Liberation Sans", "fontSize": 32, "color": "#000", "dx": 2},
         "encoding": {"text": {"field": "body"}}}
      ]
    }
  ],
  "spacing": 0
}
